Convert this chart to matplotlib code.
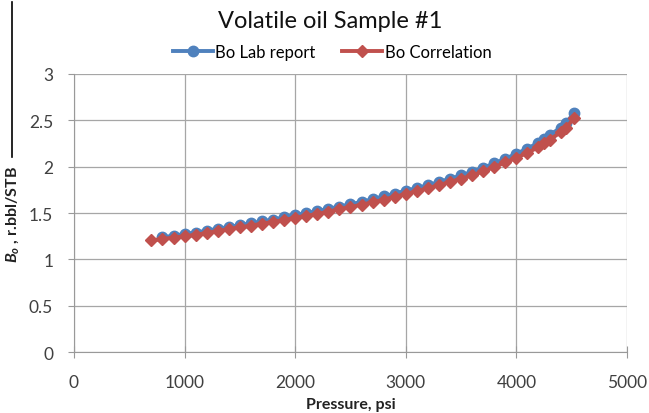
import matplotlib
matplotlib.use('Agg')
import matplotlib.pyplot as plt
from matplotlib.lines import Line2D

# Datos
pres_lab = [800, 900, 1000, 1100, 1200, 1300, 1400, 1500, 1600, 1700,
            1800, 1900, 2000, 2100, 2200, 2300, 2400, 2500, 2600, 2700,
            2800, 2900, 3000, 3100, 3200, 3300, 3400, 3500, 3600, 3700,
            3800, 3900, 4000, 4100, 4200, 4250, 4300, 4400, 4450, 4520]
bo_lab = [1.240, 1.255, 1.275, 1.290, 1.310, 1.330, 1.350, 1.370, 1.390, 1.410,
          1.430, 1.455, 1.480, 1.500, 1.520, 1.545, 1.570, 1.595, 1.620, 1.650,
          1.680, 1.710, 1.740, 1.770, 1.800, 1.835, 1.870, 1.905, 1.945, 1.990,
          2.035, 2.085, 2.140, 2.195, 2.260, 2.300, 2.340, 2.420, 2.470, 2.580]

pres_corr = [700] + pres_lab
bo_corr = [1.205, 1.220, 1.235, 1.250, 1.265, 1.285, 1.305, 1.325, 1.345, 1.365, 1.385,
           1.405, 1.425, 1.450, 1.470, 1.490, 1.515, 1.540, 1.565, 1.590, 1.615,
           1.645, 1.675, 1.705, 1.735, 1.765, 1.800, 1.835, 1.870, 1.905, 1.950,
           1.995, 2.045, 2.095, 2.150, 2.210, 2.250, 2.290, 2.370, 2.420, 2.520]

x_ticks = [0, 1000, 2000, 3000, 4000, 5000]
y_ticks = [0, 0.5, 1, 1.5, 2, 2.5, 3]
y_labels = ['0', '0.5', '1', '1.5', '2', '2.5', '3']

plt.rcParams['font.family'] = ['Lato', 'DejaVu Sans']
plt.rcParams['mathtext.fontset'] = 'custom'
plt.rcParams['mathtext.it'] = 'Lato:bold:italic'
plt.rcParams['mathtext.rm'] = 'Lato:bold'

fig = plt.figure(figsize=(6.49, 4.14), dpi=100)
ax = fig.add_axes([0.114, 0.147, 0.852, 0.672])

ax.plot(pres_lab, bo_lab, color='#4F81BD', linewidth=2.8, marker='o',
        markersize=7.5, label='Bo Lab report', zorder=3)
ax.plot(pres_corr, bo_corr, color='#C0504D', linewidth=2.8, marker='D',
        markersize=6.5, label='Bo Correlation', zorder=4)

ax.set_xlim(0, 5000)
ax.set_ylim(0, 3)
ax.set_xticks(x_ticks)
ax.set_yticks(y_ticks)
ax.set_yticklabels(y_labels)
ax.tick_params(axis='both', labelsize=12.5, labelcolor='#404040', width=0.8)
ax.tick_params(axis='y', color='#999999', length=4, pad=11)
ax.tick_params(axis='x', color='#999999', direction='inout', length=8, pad=12)
ax.grid(True, color='#A6A6A6', linewidth=0.9)
ax.set_axisbelow(True)
for s in ['top', 'right']:
    ax.spines[s].set_visible(False)
for s in ['left', 'bottom']:
    ax.spines[s].set_color('#999999')

ax.set_xlabel('Pressure, psi', fontsize=11.5, fontweight='bold')
ax.xaxis.set_label_coords(0.5, -0.16)
ax.set_ylabel(r'$B_o$ , r.bbl/STB', fontsize=11.5, fontweight='bold', labelpad=6)
ax.yaxis.label.set_color('#222222')
ax.xaxis.label.set_color('#222222')

fig.text(330 / 649, 0.949, 'Volatile oil Sample #1', fontsize=17, ha='center',
         va='center', color='#111111')
fig.legend(*ax.get_legend_handles_labels(), loc='center',
           bbox_to_anchor=(332 / 649, 0.872), ncol=2, frameon=False,
           fontsize=12, handlelength=2.4, columnspacing=1.6,
           handletextpad=0.15, borderaxespad=0)

# línea negra a la izquierda de la imagen original
fig.add_artist(Line2D([12 / 649, 12 / 649], [1 - 3 / 414, 1 - 158 / 414],
                      color='black', linewidth=1.2))

fig.savefig('out.png', dpi=100)
